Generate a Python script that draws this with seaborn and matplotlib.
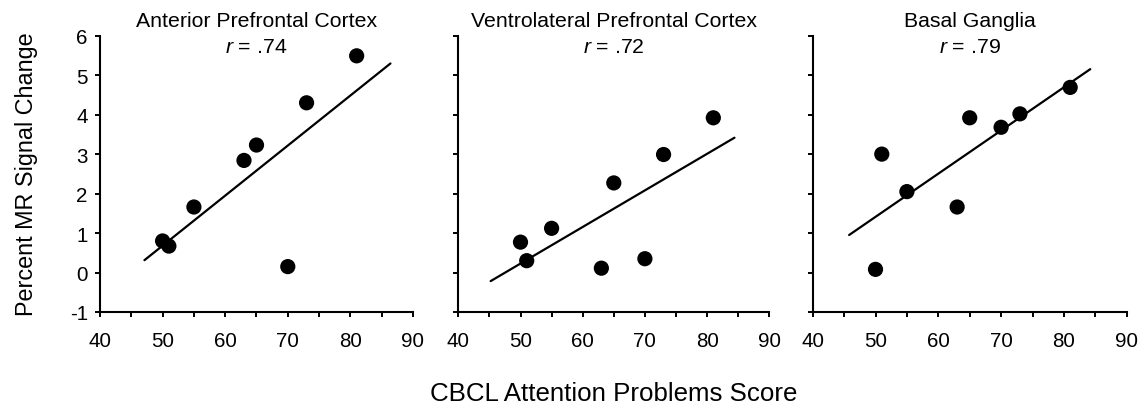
import numpy as np
import pandas as pd
import matplotlib
matplotlib.use("Agg")
import matplotlib.pyplot as plt
from matplotlib.ticker import MultipleLocator
import seaborn as sns

# ---- data ----
regions = ["Anterior Prefrontal Cortex", "Ventrolateral Prefrontal Cortex", "Basal Ganglia"]
r_labels = [".74", ".72", ".79"]
cbcl = [50, 51, 55, 63, 65, 70, 73, 81]
apfc = [0.80, 0.67, 1.66, 2.84, 3.23, 0.15, 4.30, 5.49]
vlpfc = [0.77, 0.30, 1.12, 0.11, 2.27, 0.35, 2.99, 3.92]
bg = [0.08, 3.00, 2.05, 1.66, 3.92, 3.68, 4.02, 4.69]
signal = [apfc, vlpfc, bg]
line_start = [47.1, 45.2, 45.8]
line_end = [86.4, 84.4, 84.2]

sns.set_theme(style="ticks")
plt.rcParams["font.family"] = ["Liberation Sans", "DejaVu Sans"]
plt.rcParams["mathtext.fontset"] = "custom"
plt.rcParams["mathtext.it"] = "Liberation Sans:italic"
plt.rcParams["mathtext.rm"] = "Liberation Sans"
plt.rcParams["axes.unicode_minus"] = False

fig = plt.figure(figsize=(11.44, 4.06), dpi=100)
lefts = [100, 458.3, 812.7]
widths = [313, 311, 314]
W, H = 1144, 406
top_px, bot_px = 36.7, 313
ah = bot_px - top_px

for i in range(3):
    ax = fig.add_axes([lefts[i] / W, (H - bot_px) / H, widths[i] / W, ah / H])
    df = pd.DataFrame({"x": cbcl, "y": signal[i]})
    slope, intercept = np.polyfit(df["x"], df["y"], 1)
    lx = np.array([line_start[i], line_end[i]])
    ldf = pd.DataFrame({"x": lx, "y": intercept + slope * lx})
    sns.lineplot(data=ldf, x="x", y="y", ax=ax, color="black", linewidth=1.6)
    sns.scatterplot(data=df, x="x", y="y", ax=ax, color="black", s=120,
                    edgecolor="none", zorder=3)
    ax.set_xlim(40, 90)
    ax.set_ylim(-1, 6)
    ax.xaxis.set_major_locator(MultipleLocator(10))
    ax.xaxis.set_minor_locator(MultipleLocator(5))
    ax.yaxis.set_major_locator(MultipleLocator(1))
    ax.tick_params(axis="both", which="both", direction="out", length=3.8,
                   width=1.4, color="black", labelsize=14.8, labelcolor="black")
    ax.tick_params(axis="x", pad=10)
    ax.tick_params(axis="y", pad=5)
    if i > 0:
        ax.tick_params(axis="y", labelleft=False)
    for s in ["top", "right"]:
        ax.spines[s].set_visible(False)
    for s in ["left", "bottom"]:
        ax.spines[s].set_linewidth(1.5)
        ax.spines[s].set_color("black")
    ax.set_xlabel("")
    ax.set_ylabel("")
    ax.text(0.5, 1.0 + (top_px - 27) / ah, regions[i], transform=ax.transAxes,
            ha="center", va="baseline", fontsize=15.3, color="black")
    ax.text(0.5, 1.0 - (53 - top_px) / ah, "$r$ = " + r_labels[i], transform=ax.transAxes,
            ha="center", va="baseline", fontsize=15.3, color="black")

fig.text(27 / W, 1 - 174 / H, "Percent MR Signal Change", rotation=90,
         ha="center", va="center", fontsize=16.8, color="black")
fig.text(613.5 / W, 1 - 401 / H, "CBCL Attention Problems Score",
         ha="center", va="baseline", fontsize=18.6, color="black")

fig.savefig("out.png", dpi=100)
